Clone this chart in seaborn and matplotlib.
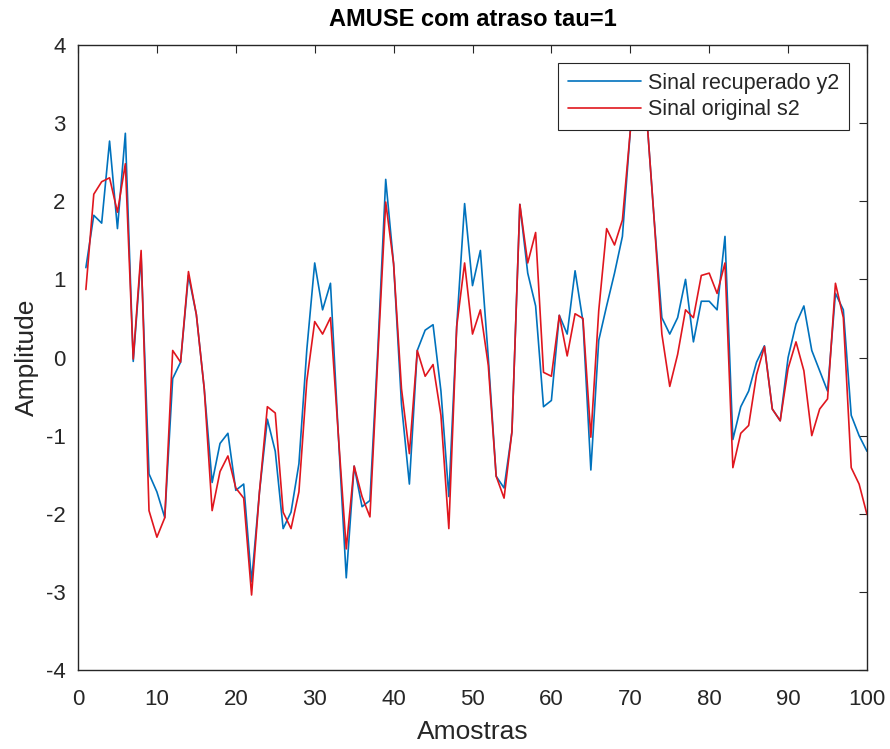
import numpy as np
import pandas as pd
import matplotlib
matplotlib.use("Agg")
import matplotlib.pyplot as plt
import seaborn as sns

amostras = list(range(1, 101))

y2_recuperado = [
    1.15, 1.82, 1.72, 2.77, 1.65, 2.87, -0.05, 1.30, -1.49, -1.72,
    -2.05, -0.27, -0.06, 1.05, 0.55, -0.40, -1.60, -1.10, -0.97, -1.70,
    -1.62, -2.87, -1.72, -0.79, -1.20, -2.19, -1.98, -1.36, 0.10, 1.21,
    0.61, 0.95, -1.00, -2.82, -1.39, -1.91, -1.83, 0.10, 2.28, 1.20,
    -0.60, -1.62, 0.09, 0.35, 0.42, -0.43, -1.78, 0.40, 1.97, 0.92,
    1.37, 0.00, -1.52, -1.67, -0.95, 1.96, 1.08, 0.66, -0.63, -0.55,
    0.54, 0.30, 1.11, 0.46, -1.44, 0.22, 0.66, 1.08, 1.55, 2.90,
    3.30, 3.20, 1.80, 0.51, 0.30, 0.51, 1.00, 0.20, 0.72, 0.72,
    0.61, 1.55, -1.05, -0.63, -0.43, -0.06, 0.15, -0.66, -0.81, 0.00,
    0.43, 0.66, 0.09, -0.17, -0.43, 0.82, 0.61, -0.74, -1.00, -1.20,
]

s2_original = [
    0.87, 2.09, 2.25, 2.30, 1.86, 2.48, -0.02, 1.37, -1.96, -2.30,
    -2.05, 0.09, -0.06, 1.10, 0.55, -0.40, -1.96, -1.46, -1.26, -1.67,
    -1.80, -3.04, -1.72, -0.63, -0.71, -1.98, -2.19, -1.72, -0.30, 0.46,
    0.30, 0.51, -1.00, -2.45, -1.39, -1.78, -2.04, 0.00, 1.99, 1.20,
    -0.40, -1.23, 0.09, -0.24, -0.09, -0.74, -2.19, 0.40, 1.21, 0.30,
    0.61, -0.10, -1.52, -1.80, -0.95, 1.96, 1.21, 1.60, -0.19, -0.24,
    0.54, 0.02, 0.56, 0.50, -1.02, 0.60, 1.65, 1.44, 1.76, 2.90,
    3.30, 3.20, 1.80, 0.30, -0.37, 0.04, 0.61, 0.51, 1.05, 1.08,
    0.82, 1.21, -1.41, -0.97, -0.87, -0.22, 0.14, -0.66, -0.81, -0.14,
    0.20, -0.17, -1.00, -0.66, -0.53, 0.95, 0.51, -1.41, -1.62, -2.01,
]

serie_nomes = ["Sinal recuperado y2", "Sinal original s2"]
x_ticks = list(range(0, 101, 10))
y_ticks = list(range(-4, 5, 1))

df = pd.DataFrame({
    "Amostras": amostras * 2,
    "Amplitude": y2_recuperado + s2_original,
    "serie": [serie_nomes[0]] * len(amostras) + [serie_nomes[1]] * len(amostras),
})

sns.set_style("white")
plt.rcParams["font.family"] = ["Liberation Sans", "DejaVu Sans"]
plt.rcParams["axes.unicode_minus"] = False

fig = plt.figure(figsize=(8.9, 7.49), dpi=100)
ax = fig.add_axes([78 / 890, (749 - 670) / 749, (867 - 78) / 890, (670 - 45) / 749])

palette = {serie_nomes[0]: "#0072BD", serie_nomes[1]: "#E0161E"}
sns.lineplot(data=df, x="Amostras", y="Amplitude", hue="serie", palette=palette,
             linewidth=1.2, ax=ax, legend=True, zorder=2)

ax.set_xlim(0, 100)
ax.set_ylim(-4, 4)
ax.set_xticks(x_ticks)
ax.set_yticks(y_ticks)
edge = "#262626"
for sp in ax.spines.values():
    sp.set_visible(True)
    sp.set_color(edge)
    sp.set_linewidth(1.0)
ax.tick_params(axis="both", direction="in", length=6, width=0.8, color=edge,
               labelcolor=edge, labelsize=16, top=True, right=True)
ax.tick_params(axis="x", pad=14)
ax.tick_params(axis="y", pad=9)

ax.set_xlabel("Amostras", fontsize=19, color=edge, labelpad=7)
ax.set_ylabel("Amplitude", fontsize=19, color=edge, labelpad=5)
ax.set_title("AMUSE com atraso tau=1", fontsize=17, fontweight="bold", color="black", pad=14)

leg = ax.legend(loc="upper right", fontsize=15.5, frameon=True, fancybox=False,
                framealpha=1.0, edgecolor=edge, handlelength=3.4,
                borderaxespad=0.85, borderpad=0.45, labelspacing=0.25,
                handletextpad=0.3)
leg.get_frame().set_linewidth(0.8)
leg.set_zorder(5)
for t in leg.get_texts():
    t.set_color(edge)

fig.savefig("out.png", dpi=100, facecolor="white")
